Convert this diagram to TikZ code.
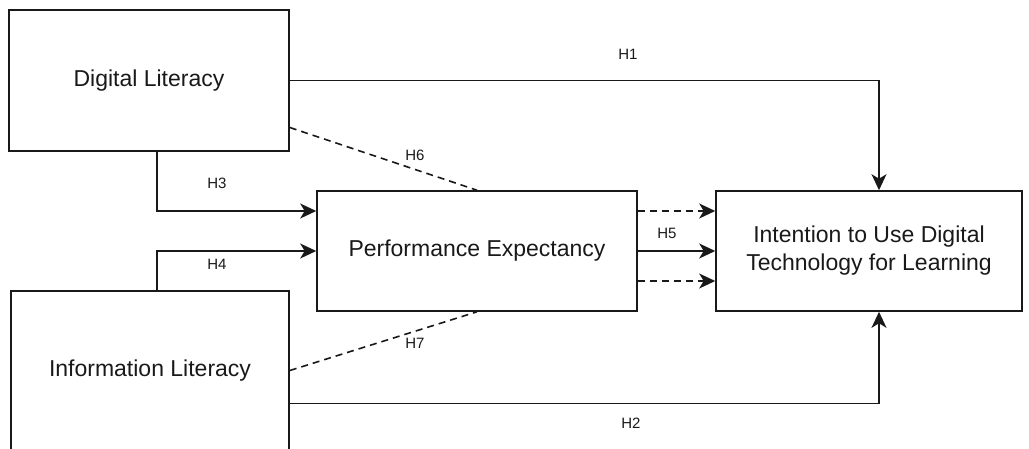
\documentclass[tikz,border=0pt]{standalone}
\usepackage{fontspec}
\setmainfont{Liberation Sans}
\usetikzlibrary{arrows.meta}
\begin{document}
\begin{tikzpicture}[x=1pt,y=-1pt,
  box/.style={draw=black!90, line width=1.6pt, rectangle, inner sep=0pt, align=center,
    font=\fontsize{23}{28}\selectfont, text=black!90},
  hlab/.style={font=\fontsize{15}{18}\selectfont, text=black!90, inner sep=0pt},
  conn/.style={draw=black!90, line width=1.6pt},
  tip/.style={-{Stealth[length=16pt,width=15pt,inset=4.5pt]}},
  arr/.style={conn, tip},
  dsh/.style={conn, dash pattern=on 7pt off 5pt}]
\useasboundingbox (0,0) rectangle (1029,448);
\node[box, minimum width=280pt, minimum height=141pt] (dl) at (149,80.5) {Digital Literacy};
\node[box, minimum width=278pt, minimum height=159pt] (il) at (150,370.5) {Information Literacy};
\node[box, minimum width=320pt, minimum height=120pt] (pe) at (477,251) {Performance Expectancy};
\node[box, minimum width=306pt, minimum height=120pt] (it) at (869,251) {Intention to Use Digital\\Technology for Learning};
% connectors
\draw[arr] (dl.east) -| ([xshift=10pt]it.north);
\draw[arr] ([yshift=-33pt]il.east) -| ([xshift=10pt]it.south);
\draw[arr] ([xshift=8pt]dl.south) |- ([yshift=40pt]pe.west);
\draw[arr] ([xshift=7pt]il.north) |- (pe.west);
\draw[arr] (pe.east) -- (it.west);
\draw[dsh, tip] ([yshift=40pt]pe.east) -- ([yshift=40pt]it.west);
\draw[dsh, tip] ([yshift=-30pt]pe.east) -- ([yshift=-30pt]it.west);
\draw[dsh] ([yshift=-47pt]dl.east) -- (pe.north);
\draw[dsh] (il.east) -- (pe.south);
% labels
\node[hlab] (h1) at (628,54) {H1};
\node[hlab] (h2) at (631,423) {H2};
\node[hlab] (h3) at (217,183) {H3};
\node[hlab] (h4) at (217,264) {H4};
\node[hlab] (h5) at (667,233) {H5};
\node[hlab] (h6) at (415,155) {H6};
\node[hlab] (h7) at (415,343) {H7};
\end{tikzpicture}
\end{document}
